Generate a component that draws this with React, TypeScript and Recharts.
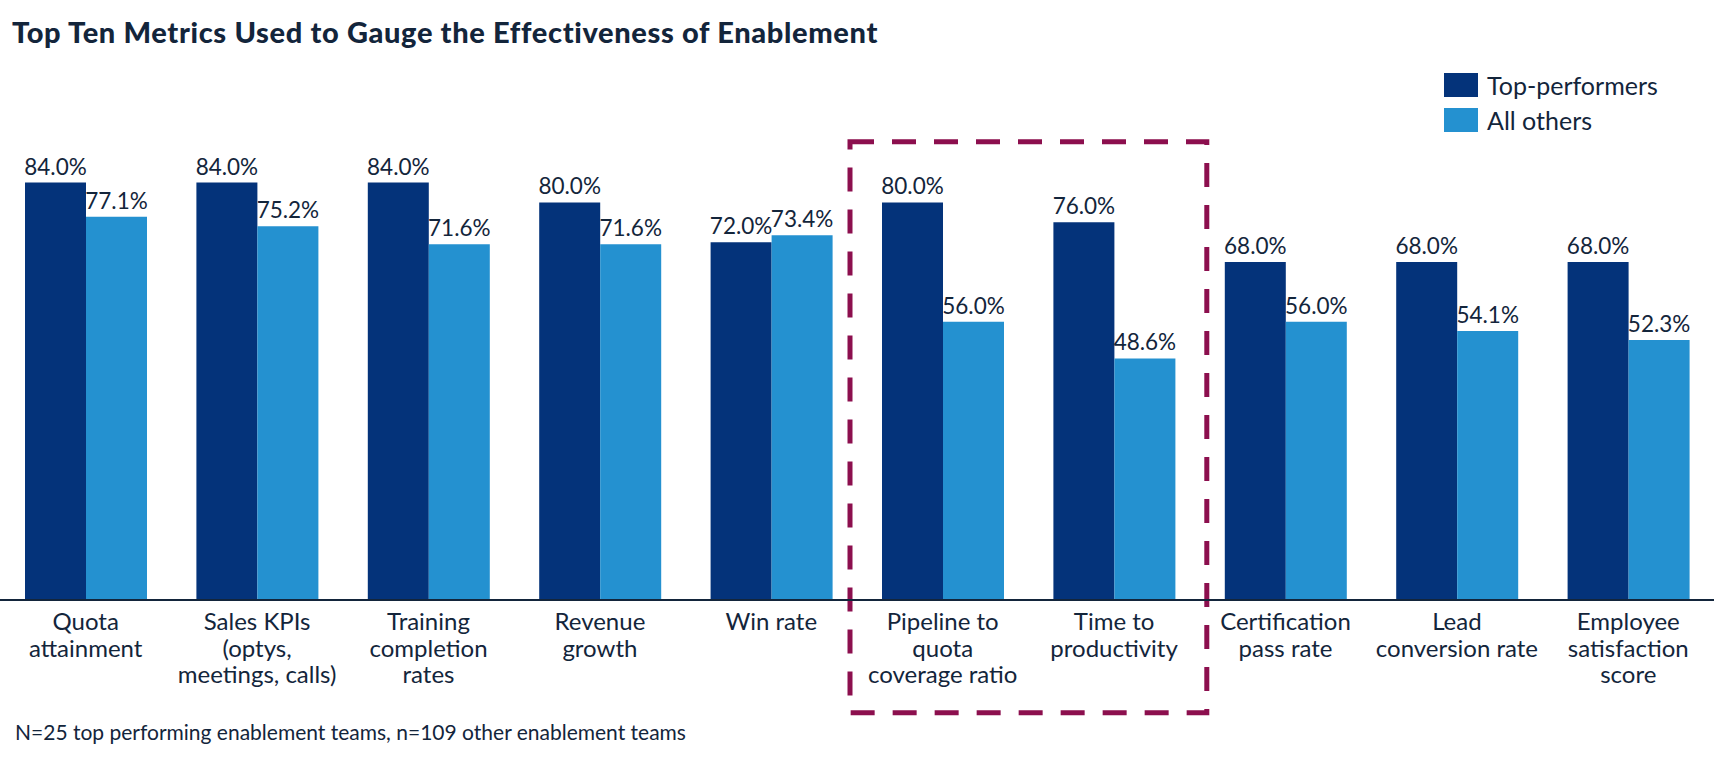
import React from "react";
import { BarChart, Bar, XAxis, YAxis, LabelList, ReferenceArea } from "recharts";

const categories = [
  "Quota\nattainment",
  "Sales KPIs\n(optys,\nmeetings, calls)",
  "Training\ncompletion\nrates",
  "Revenue\ngrowth",
  "Win rate",
  "Pipeline to\nquota\ncoverage ratio",
  "Time to\nproductivity",
  "Certification\npass rate",
  "Lead\nconversion rate",
  "Employee\nsatisfaction\nscore",
];
const topPerformers = [84.0, 84.0, 84.0, 80.0, 72.0, 80.0, 76.0, 68.0, 68.0, 68.0];
const allOthers = [77.1, 75.2, 71.6, 71.6, 73.4, 56.0, 48.6, 56.0, 54.1, 52.3];
const seriesNames = ["Top-performers", "All others"];
// the two metrics boxed in the original
const highlighted = [categories[5], categories[6]];
const highlightSpan = [-22.7, 92.2];

const TITLE = "Top Ten Metrics Used to Gauge the Effectiveness of Enablement";
const NOTE = "N=25 top performing enablement teams, n=109 other enablement teams";

const DARK = "#04337a";
const LIGHT = "#2491d0";
const TEXT = "#13253b";
const HIGHLIGHT = "#8c0f4e";
const FONT = "Lato, 'Open Sans', sans-serif";

const data = categories.map((name, i) => ({
  name,
  top: topPerformers[i],
  others: allOthers[i],
}));

const CategoryTick = ({ x, y, payload }: any) => {
  const lines = String(payload.value).split("\n");
  return (
    <text x={x} y={y} textAnchor="middle" fill={TEXT} fontSize={24} fontFamily={FONT}>
      {lines.map((l, i) => (
        <tspan key={i} x={x} dy={i === 0 ? 30 : 26.5}>
          {l}
        </tspan>
      ))}
    </text>
  );
};

const ValueLabel = (props: any) => {
  const { x, y, width, value } = props;
  return (
    <text x={x + width / 2} y={y - 8} textAnchor="middle" fill={TEXT} fontSize={22.5} fontFamily={FONT}>
      {Number(value).toFixed(1)}%
    </text>
  );
};

const DashedBox = (props: any) => {
  const { x, y, width, height } = props;
  const pad = 7;
  return (
    <rect
      x={x - pad}
      y={y}
      width={width + pad * 2}
      height={height}
      fill="none"
      stroke={HIGHLIGHT}
      strokeWidth={5}
      strokeDasharray="24 18"
    />
  );
};

export default function App() {
  return (
    <div style={{ position: "relative", width: 1726, height: 758, background: "#fff", fontFamily: FONT }}>
      <style>{`body{margin:0}`}</style>
      <div
        style={{
          position: "absolute",
          left: 12,
          top: 17,
          fontSize: 29,
          lineHeight: "29px",
          fontWeight: 900,
          letterSpacing: 0.65,
          color: TEXT,
          whiteSpace: "nowrap",
        }}
      >
        {TITLE}
      </div>

      <div style={{ position: "absolute", left: 1444, top: 73 }}>
        {seriesNames.map((s, i) => (
          <div key={s} style={{ display: "flex", alignItems: "center", height: 24, marginBottom: 11 }}>
            <div style={{ width: 34, height: 24, background: i === 0 ? DARK : LIGHT }} />
            <span style={{ marginLeft: 9, fontSize: 25, lineHeight: "24px", color: TEXT, whiteSpace: "nowrap" }}>
              {s}
            </span>
          </div>
        ))}
      </div>

      <div style={{ position: "absolute", top: 0, left: 0 }}>
        <BarChart
          width={1726}
          height={758}
          data={data}
          margin={{ top: 103, right: 12, left: 0, bottom: 0 }}
          barGap={0}
          barSize={61}
        >
          <XAxis
            dataKey="name"
            height={158}
            interval={0}
            tickLine={false}
            tickSize={0}
            tickMargin={0}
            axisLine={{ stroke: TEXT, strokeWidth: 2 }}
            tick={<CategoryTick />}
          />
          <YAxis hide domain={[0, 100]} />
          <Bar dataKey="top" name={seriesNames[0]} fill={DARK} isAnimationActive={false}>
            <LabelList dataKey="top" content={<ValueLabel />} />
          </Bar>
          <Bar dataKey="others" name={seriesNames[1]} fill={LIGHT} isAnimationActive={false}>
            <LabelList dataKey="others" content={<ValueLabel />} />
          </Bar>
          <ReferenceArea
            x1={highlighted[0]}
            x2={highlighted[1]}
            y1={highlightSpan[0]}
            y2={highlightSpan[1]}
            ifOverflow="visible"
            shape={<DashedBox />}
          />
        </BarChart>
      </div>

      <div
        style={{
          position: "absolute",
          left: 15,
          top: 721,
          fontSize: 21,
          lineHeight: "21px",
          color: TEXT,
          whiteSpace: "nowrap",
        }}
      >
        {NOTE}
      </div>
    </div>
  );
}
